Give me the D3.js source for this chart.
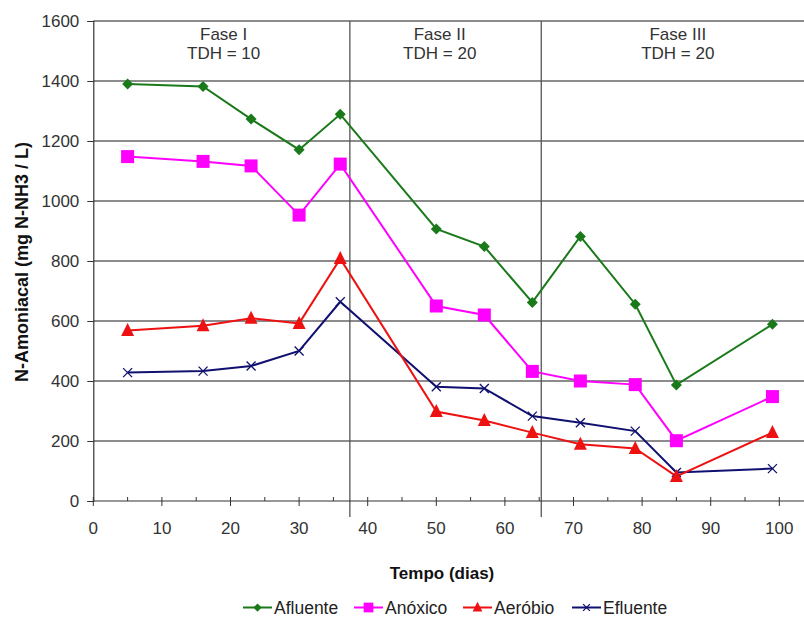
<!DOCTYPE html>
<html><head><meta charset="utf-8">
<script src="https://cdn.jsdelivr.net/npm/d3@7"></script>
<style>body{margin:0;background:#fff}svg{display:block;font-family:"Liberation Sans",Arial,sans-serif}</style>
</head><body>
<svg id="c" width="804" height="619"></svg>
<script>
const days = [5, 16, 23, 30, 36, 50, 57, 64, 71, 79, 85, 99];
const afluente = [1390, 1382, 1273, 1171, 1289, 907, 848, 662, 882, 656, 387, 589];
const anoxico  = [1148, 1132, 1117, 953, 1123, 650, 620, 432, 400, 388, 201, 348];
const aerobio  = [568, 584, 609, 592, 808, 298, 268, 228, 189, 175, 82, 228];
const efluente = [428, 433, 450, 500, 664, 381, 375, 283, 261, 233, 95, 108];
const seriesNames = ["Afluente", "Anóxico", "Aeróbio", "Efluente"];
const seriesColors = ["#1a7a1a", "#ff00ff", "#ee1111", "#101070"];
const seriesMarkers = ["diamond", "square", "triangle", "cross"];
const yTicks = [0, 200, 400, 600, 800, 1000, 1200, 1400, 1600];
const xTicks = [0, 10, 20, 30, 40, 50, 60, 70, 80, 90, 100];
const phaseBreaks = [37.4, 65.3];
const phaseLabels = [["Fase I", "TDH = 10", 19], ["Fase II", "TDH = 20", 50.5], ["Fase III", "TDH = 20", 85.2]];

const svg = d3.select("#c");
const x = d3.scaleLinear().domain([0, 103.6]).range([93.3, 804]);
const y = d3.scaleLinear().domain([0, 1600]).range([501, 21]);
const txt = "#333";
const fs = "17px";

// gridlines
svg.append("g").selectAll("line").data(yTicks.filter(d => d > 0)).join("line")
  .attr("x1", x(0)).attr("x2", 804).attr("y1", d => y(d)).attr("y2", d => y(d))
  .attr("stroke", "#1a1a1a").attr("stroke-width", 1.2);

// phase separators
svg.append("g").selectAll("line").data(phaseBreaks).join("line")
  .attr("x1", d => x(d)).attr("x2", d => x(d)).attr("y1", y(1600)).attr("y2", 517)
  .attr("stroke", "#555").attr("stroke-width", 1.3);

// y axis
const yAxis = svg.append("g").attr("transform", `translate(${x(0)},0)`)
  .call(d3.axisLeft(y).tickValues(yTicks).tickSize(6).tickPadding(8).tickFormat(d3.format("d")));
yAxis.select(".domain").attr("stroke", "#333").attr("stroke-width", 1.2);
yAxis.selectAll(".tick line").attr("stroke", "#333");
yAxis.selectAll("text").attr("fill", txt).style("font-size", fs).style("font-family", '"Liberation Sans",Arial,sans-serif');

// x axis
const xAxisG = svg.append("g").attr("transform", `translate(0,${y(0)})`);
xAxisG.append("line").attr("x1", x(0)).attr("x2", 804).attr("y1", 0).attr("y2", 0)
  .attr("stroke", "#333").attr("stroke-width", 1.2);
const minor = d3.range(5, 104, 10);
xAxisG.selectAll(".mn").data(minor).join("line").attr("class", "mn")
  .attr("x1", d => x(d)).attr("x2", d => x(d)).attr("y1", -4).attr("y2", 0).attr("stroke", "#333");
xAxisG.selectAll(".mj").data(xTicks).join("line").attr("class", "mj")
  .attr("x1", d => x(d)).attr("x2", d => x(d)).attr("y1", -4).attr("y2", 5).attr("stroke", "#333");
xAxisG.selectAll("text").data(xTicks).join("text")
  .attr("x", d => x(d)).attr("y", 33).attr("text-anchor", "middle")
  .attr("fill", txt).style("font-size", fs).text(d => d);

// phase labels
const pl = svg.append("g");
phaseLabels.forEach(p => {
  pl.append("text").attr("x", x(p[2])).attr("y", 40).attr("text-anchor", "middle")
    .attr("fill", txt).style("font-size", fs).text(p[0]);
  pl.append("text").attr("x", x(p[2])).attr("y", 59).attr("text-anchor", "middle")
    .attr("fill", txt).style("font-size", fs).text(p[1]);
});

// axis titles
svg.append("text").attr("x", 442).attr("y", 579).attr("text-anchor", "middle")
  .style("font-size", "17px").style("font-weight", "bold").attr("fill", "#111").text("Tempo (dias)");
svg.append("text").attr("transform", "translate(28,262) rotate(-90)").attr("text-anchor", "middle")
  .style("font-size", "18px").style("font-weight", "bold").attr("fill", "#111").text("N-Amoniacal (mg N-NH3 / L)");

const allData = [afluente, anoxico, aerobio, efluente];
const line = d3.line().x((d, i) => x(days[i])).y(d => y(d));

function marker(g, type, cx, cy, color, s) {
  s = s || 1;
  if (type === "diamond") {
    g.append("path").attr("d", `M${cx},${cy - 5.5 * s}L${cx + 5.5 * s},${cy}L${cx},${cy + 5.5 * s}L${cx - 5.5 * s},${cy}Z`).attr("fill", color);
  } else if (type === "square") {
    const h = 6.5 * s;
    g.append("rect").attr("x", cx - h).attr("y", cy - h).attr("width", 2 * h).attr("height", 2 * h).attr("fill", color);
  } else if (type === "triangle") {
    const h = 6.5 * s;
    g.append("path").attr("d", `M${cx},${cy - h - 1}L${cx + h},${cy + h - 1}L${cx - h},${cy + h - 1}Z`).attr("fill", color);
  } else {
    const h = 4.5 * s;
    g.append("path").attr("d", `M${cx - h},${cy - h}L${cx + h},${cy + h}M${cx - h},${cy + h}L${cx + h},${cy - h}`)
      .attr("stroke", color).attr("stroke-width", 1.3).attr("fill", "none");
  }
}

const order = [3, 2, 1, 0];
order.forEach(k => {
  svg.append("path").datum(allData[k]).attr("d", line).attr("fill", "none")
    .attr("stroke", seriesColors[k]).attr("stroke-width", 2);
});
order.forEach(k => {
  const g = svg.append("g");
  allData[k].forEach((v, i) => marker(g, seriesMarkers[k], x(days[i]), y(v), seriesColors[k]));
});

// legend
const legX = [243, 354, 463, 572];
const leg = svg.append("g");
seriesNames.forEach((n, k) => {
  const lx = legX[k], ly = 607.5;
  leg.append("line").attr("x1", lx).attr("x2", lx + 29).attr("y1", ly).attr("y2", ly)
    .attr("stroke", seriesColors[k]).attr("stroke-width", 2);
  marker(leg, seriesMarkers[k], lx + 14.5, ly, seriesColors[k], 0.75);
  leg.append("text").attr("x", lx + 31).attr("y", ly + 6.5).attr("fill", "#222")
    .style("font-size", "17.5px").text(n);
});
</script>
</body></html>
